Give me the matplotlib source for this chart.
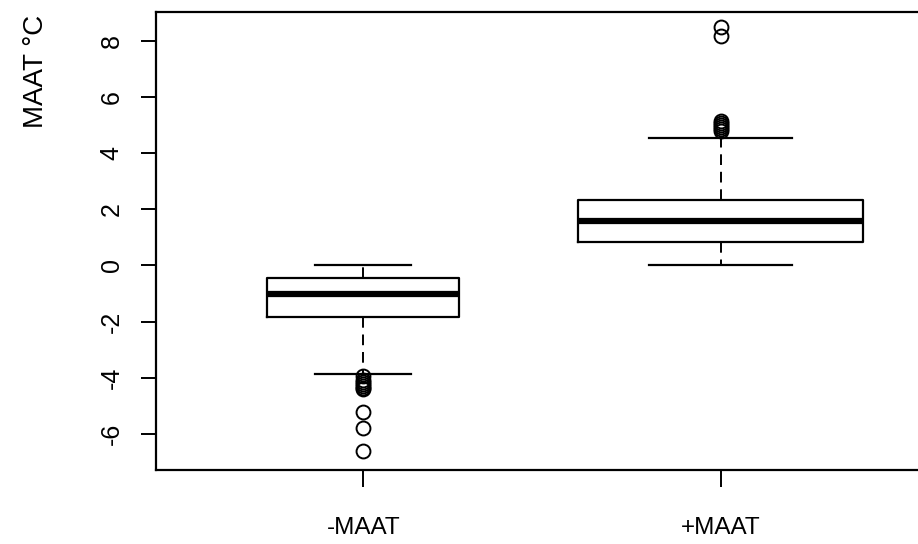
import matplotlib
matplotlib.use("Agg")
import matplotlib.pyplot as plt

# values (R-style boxplot, varwidth)
groups = ["-MAAT", "+MAAT"]
lower_whisker = [-3.86, 0.0]
q1 = [-1.82, 0.83]
median = [-1.02, 1.57]
q3 = [-0.45, 2.33]
upper_whisker = [0.0, 4.53]
outliers_neg = [-3.95, -4.07, -4.15, -4.22, -4.28, -4.35, -4.4, -5.2, -5.79, -6.6]
outliers_pos = [4.78, 4.85, 4.92, 5.0, 5.08, 5.15, 8.17, 8.48]
box_widths = [0.538, 0.8]


def main():
    plt.rcParams["font.family"] = ["Liberation Sans", "DejaVu Sans"]
    W, H = 918, 544
    fig = plt.figure(figsize=(W / 100, H / 100), dpi=100)

    # axes frame in pixels (right edge falls just outside the picture)
    left, right, top, bottom = 155.5, 928.5, 11.5, 469.7
    ax = fig.add_axes([left / W, 1 - bottom / H, (right - left) / W, (bottom - top) / H])

    fliers = [outliers_neg, outliers_pos]
    stats = []
    for i, name in enumerate(groups):
        stats.append(dict(label=name, whislo=lower_whisker[i], q1=q1[i], med=median[i],
                          q3=q3[i], whishi=upper_whisker[i], fliers=fliers[i]))

    ax.bxp(
        stats,
        positions=[1, 2],
        widths=box_widths,
        capwidths=[w / 2 for w in box_widths],
        boxprops=dict(color="black", linewidth=1.6),
        medianprops=dict(color="black", linewidth=4.5, solid_capstyle="butt"),
        whiskerprops=dict(color="black", linewidth=1.4, linestyle=(0, (5.5, 3.5))),
        capprops=dict(color="black", linewidth=1.6),
        flierprops=dict(marker="o", markerfacecolor="none", markeredgecolor="black",
                        markersize=10, markeredgewidth=1.4, linestyle="none"),
    )

    ax.set_xlim(0.418, 2.582)
    ax.set_ylim(-7.27, 9.04)
    ax.set_yticks([-6, -4, -2, 0, 2, 4, 6, 8])
    ax.set_yticklabels(["-6", "-4", "-2", "0", "2", "4", "6", "8"],
                       rotation=90, va="center", fontsize=18)
    ax.set_xticks([1, 2])
    ax.set_xticklabels(groups, fontsize=17.5)
    ax.tick_params(axis="y", length=11, width=1.4, pad=12)
    ax.tick_params(axis="x", length=12, width=1.4, pad=22)
    for sp in ax.spines.values():
        sp.set_linewidth(1.6)

    fig.text(36 / W, 1 - 71 / H, "MAAT °C", rotation=90, ha="center", va="center", fontsize=20)

    fig.savefig("out.png", dpi=100)


if __name__ == "__main__":
    main()
